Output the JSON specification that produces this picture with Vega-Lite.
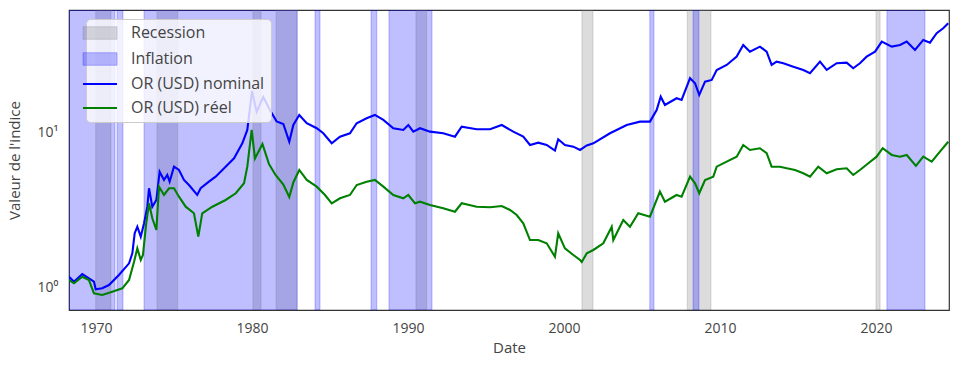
{
  "$schema": "https://vega.github.io/schema/vega-lite/v6.json",
  "width": 880,
  "height": 300,
  "autosize": {"type": "none"},
  "padding": {"left": 69, "top": 10, "right": 9, "bottom": 59},
  "config": {
    "view": {"stroke": "#333333", "strokeWidth": 1.2},
    "font": "Open Sans",
    "axis": {"domain": false, "ticks": false, "grid": false, "labelFont": "Open Sans", "labelFontSize": 14, "labelColor": "#444444", "titleFont": "Open Sans", "titleFontSize": 15, "titleFontWeight": "normal", "titleColor": "#444444", "labelPadding": 11}
  },
  "datasets": {
    "bands": [
      {"cat": "Recession", "start": 1969.98, "end": 1970.96},
      {"cat": "Recession", "start": 1973.91, "end": 1975.24},
      {"cat": "Recession", "start": 1980.06, "end": 1980.58},
      {"cat": "Recession", "start": 1981.54, "end": 1982.88},
      {"cat": "Recession", "start": 1990.51, "end": 1991.2},
      {"cat": "Recession", "start": 2001.15, "end": 2001.86},
      {"cat": "Recession", "start": 2007.9, "end": 2009.42},
      {"cat": "Recession", "start": 2020.0, "end": 2020.26},
      {"cat": "Inflation", "start": 1968.27, "end": 1971.22},
      {"cat": "Inflation", "start": 1971.35, "end": 1971.73},
      {"cat": "Inflation", "start": 1973.08, "end": 1982.9},
      {"cat": "Inflation", "start": 1984.04, "end": 1984.36},
      {"cat": "Inflation", "start": 1987.63, "end": 1988.0},
      {"cat": "Inflation", "start": 1988.78, "end": 1991.54},
      {"cat": "Inflation", "start": 2005.5, "end": 2005.77},
      {"cat": "Inflation", "start": 2008.27, "end": 2008.65},
      {"cat": "Inflation", "start": 2020.7, "end": 2023.14}
    ],
    "lines": [
      {"cat": "OR (USD) nominal", "year": 1968.27, "v": 1.166},
      {"cat": "OR (USD) nominal", "year": 1968.59, "v": 1.082},
      {"cat": "OR (USD) nominal", "year": 1969.12, "v": 1.214},
      {"cat": "OR (USD) nominal", "year": 1969.55, "v": 1.138},
      {"cat": "OR (USD) nominal", "year": 1969.87, "v": 1.082},
      {"cat": "OR (USD) nominal", "year": 1969.98, "v": 0.966},
      {"cat": "OR (USD) nominal", "year": 1970.4, "v": 0.981},
      {"cat": "OR (USD) nominal", "year": 1970.83, "v": 1.03},
      {"cat": "OR (USD) nominal", "year": 1971.47, "v": 1.196},
      {"cat": "OR (USD) nominal", "year": 1972.12, "v": 1.423},
      {"cat": "OR (USD) nominal", "year": 1972.33, "v": 1.652},
      {"cat": "OR (USD) nominal", "year": 1972.48, "v": 2.227},
      {"cat": "OR (USD) nominal", "year": 1972.65, "v": 2.456},
      {"cat": "OR (USD) nominal", "year": 1972.87, "v": 2.117},
      {"cat": "OR (USD) nominal", "year": 1973.08, "v": 2.584},
      {"cat": "OR (USD) nominal", "year": 1973.29, "v": 3.309},
      {"cat": "OR (USD) nominal", "year": 1973.4, "v": 4.353},
      {"cat": "OR (USD) nominal", "year": 1973.61, "v": 3.309},
      {"cat": "OR (USD) nominal", "year": 1973.87, "v": 3.657},
      {"cat": "OR (USD) nominal", "year": 1974.08, "v": 5.577},
      {"cat": "OR (USD) nominal", "year": 1974.36, "v": 4.928},
      {"cat": "OR (USD) nominal", "year": 1974.57, "v": 5.308},
      {"cat": "OR (USD) nominal", "year": 1974.72, "v": 4.805},
      {"cat": "OR (USD) nominal", "year": 1975.0, "v": 6.006},
      {"cat": "OR (USD) nominal", "year": 1975.32, "v": 5.719},
      {"cat": "OR (USD) nominal", "year": 1975.64, "v": 4.928},
      {"cat": "OR (USD) nominal", "year": 1975.96, "v": 4.571},
      {"cat": "OR (USD) nominal", "year": 1976.49, "v": 3.94},
      {"cat": "OR (USD) nominal", "year": 1976.71, "v": 4.353},
      {"cat": "OR (USD) nominal", "year": 1977.24, "v": 4.805},
      {"cat": "OR (USD) nominal", "year": 1977.67, "v": 5.176},
      {"cat": "OR (USD) nominal", "year": 1978.31, "v": 6.006},
      {"cat": "OR (USD) nominal", "year": 1978.85, "v": 6.808},
      {"cat": "OR (USD) nominal", "year": 1979.38, "v": 8.511},
      {"cat": "OR (USD) nominal", "year": 1979.7, "v": 10.38},
      {"cat": "OR (USD) nominal", "year": 1980.0, "v": 18.56},
      {"cat": "OR (USD) nominal", "year": 1980.3, "v": 13.57},
      {"cat": "OR (USD) nominal", "year": 1980.72, "v": 16.97},
      {"cat": "OR (USD) nominal", "year": 1981.15, "v": 13.98},
      {"cat": "OR (USD) nominal", "year": 1981.58, "v": 11.78},
      {"cat": "OR (USD) nominal", "year": 1982.01, "v": 11.35},
      {"cat": "OR (USD) nominal", "year": 1982.39, "v": 8.718},
      {"cat": "OR (USD) nominal", "year": 1982.65, "v": 11.18},
      {"cat": "OR (USD) nominal", "year": 1983.03, "v": 12.98},
      {"cat": "OR (USD) nominal", "year": 1983.51, "v": 11.47},
      {"cat": "OR (USD) nominal", "year": 1984.15, "v": 10.65},
      {"cat": "OR (USD) nominal", "year": 1984.57, "v": 9.88},
      {"cat": "OR (USD) nominal", "year": 1985.11, "v": 8.511},
      {"cat": "OR (USD) nominal", "year": 1985.64, "v": 9.393},
      {"cat": "OR (USD) nominal", "year": 1986.28, "v": 9.88},
      {"cat": "OR (USD) nominal", "year": 1986.71, "v": 11.47},
      {"cat": "OR (USD) nominal", "year": 1987.35, "v": 12.36},
      {"cat": "OR (USD) nominal", "year": 1987.88, "v": 12.98},
      {"cat": "OR (USD) nominal", "year": 1988.42, "v": 12.05},
      {"cat": "OR (USD) nominal", "year": 1989.06, "v": 10.65},
      {"cat": "OR (USD) nominal", "year": 1989.7, "v": 10.38},
      {"cat": "OR (USD) nominal", "year": 1990.02, "v": 11.18},
      {"cat": "OR (USD) nominal", "year": 1990.34, "v": 10.12},
      {"cat": "OR (USD) nominal", "year": 1990.77, "v": 10.65},
      {"cat": "OR (USD) nominal", "year": 1991.41, "v": 10.12},
      {"cat": "OR (USD) nominal", "year": 1992.26, "v": 9.88},
      {"cat": "OR (USD) nominal", "year": 1993.01, "v": 9.393},
      {"cat": "OR (USD) nominal", "year": 1993.44, "v": 10.9},
      {"cat": "OR (USD) nominal", "year": 1994.4, "v": 10.49},
      {"cat": "OR (USD) nominal", "year": 1995.26, "v": 10.49},
      {"cat": "OR (USD) nominal", "year": 1996.01, "v": 11.18},
      {"cat": "OR (USD) nominal", "year": 1996.75, "v": 10.12},
      {"cat": "OR (USD) nominal", "year": 1997.39, "v": 9.393},
      {"cat": "OR (USD) nominal", "year": 1997.82, "v": 8.3},
      {"cat": "OR (USD) nominal", "year": 1998.35, "v": 8.59},
      {"cat": "OR (USD) nominal", "year": 1998.89, "v": 8.3},
      {"cat": "OR (USD) nominal", "year": 1999.42, "v": 7.625},
      {"cat": "OR (USD) nominal", "year": 1999.63, "v": 9.036},
      {"cat": "OR (USD) nominal", "year": 2000.06, "v": 8.3},
      {"cat": "OR (USD) nominal", "year": 2000.6, "v": 8.091},
      {"cat": "OR (USD) nominal", "year": 2001.03, "v": 7.703},
      {"cat": "OR (USD) nominal", "year": 2001.46, "v": 8.238},
      {"cat": "OR (USD) nominal", "year": 2001.88, "v": 8.511},
      {"cat": "OR (USD) nominal", "year": 2002.95, "v": 9.88},
      {"cat": "OR (USD) nominal", "year": 2004.02, "v": 11.18},
      {"cat": "OR (USD) nominal", "year": 2004.87, "v": 11.75},
      {"cat": "OR (USD) nominal", "year": 2005.51, "v": 11.75},
      {"cat": "OR (USD) nominal", "year": 2005.94, "v": 13.98},
      {"cat": "OR (USD) nominal", "year": 2006.2, "v": 17.05},
      {"cat": "OR (USD) nominal", "year": 2006.47, "v": 15.07},
      {"cat": "OR (USD) nominal", "year": 2007.22, "v": 16.65},
      {"cat": "OR (USD) nominal", "year": 2007.54, "v": 16.23},
      {"cat": "OR (USD) nominal", "year": 2008.08, "v": 22.43},
      {"cat": "OR (USD) nominal", "year": 2008.4, "v": 20.82},
      {"cat": "OR (USD) nominal", "year": 2008.67, "v": 17.48},
      {"cat": "OR (USD) nominal", "year": 2009.04, "v": 21.32},
      {"cat": "OR (USD) nominal", "year": 2009.47, "v": 21.87},
      {"cat": "OR (USD) nominal", "year": 2009.79, "v": 25.38},
      {"cat": "OR (USD) nominal", "year": 2010.43, "v": 27.34},
      {"cat": "OR (USD) nominal", "year": 2011.07, "v": 30.95},
      {"cat": "OR (USD) nominal", "year": 2011.49, "v": 36.84},
      {"cat": "OR (USD) nominal", "year": 2011.92, "v": 33.34},
      {"cat": "OR (USD) nominal", "year": 2012.56, "v": 35.92},
      {"cat": "OR (USD) nominal", "year": 2012.99, "v": 33.34},
      {"cat": "OR (USD) nominal", "year": 2013.31, "v": 27.34},
      {"cat": "OR (USD) nominal", "year": 2013.63, "v": 28.72},
      {"cat": "OR (USD) nominal", "year": 2014.06, "v": 28.05},
      {"cat": "OR (USD) nominal", "year": 2014.7, "v": 26.66},
      {"cat": "OR (USD) nominal", "year": 2015.34, "v": 25.38},
      {"cat": "OR (USD) nominal", "year": 2015.77, "v": 24.16},
      {"cat": "OR (USD) nominal", "year": 2016.41, "v": 28.72},
      {"cat": "OR (USD) nominal", "year": 2016.84, "v": 25.38},
      {"cat": "OR (USD) nominal", "year": 2017.48, "v": 28.05},
      {"cat": "OR (USD) nominal", "year": 2018.12, "v": 28.3},
      {"cat": "OR (USD) nominal", "year": 2018.54, "v": 26.03},
      {"cat": "OR (USD) nominal", "year": 2018.97, "v": 28.05},
      {"cat": "OR (USD) nominal", "year": 2019.4, "v": 30.95},
      {"cat": "OR (USD) nominal", "year": 2019.94, "v": 33.34},
      {"cat": "OR (USD) nominal", "year": 2020.37, "v": 38.7},
      {"cat": "OR (USD) nominal", "year": 2021.01, "v": 35.92},
      {"cat": "OR (USD) nominal", "year": 2021.54, "v": 36.84},
      {"cat": "OR (USD) nominal", "year": 2021.97, "v": 38.7},
      {"cat": "OR (USD) nominal", "year": 2022.5, "v": 34.2},
      {"cat": "OR (USD) nominal", "year": 2023.03, "v": 39.69},
      {"cat": "OR (USD) nominal", "year": 2023.46, "v": 38.13},
      {"cat": "OR (USD) nominal", "year": 2023.89, "v": 43.87},
      {"cat": "OR (USD) nominal", "year": 2024.31, "v": 47.25},
      {"cat": "OR (USD) nominal", "year": 2024.63, "v": 50.92},
      {"cat": "OR (USD) réel", "year": 1968.27, "v": 1.11},
      {"cat": "OR (USD) réel", "year": 1968.59, "v": 1.057},
      {"cat": "OR (USD) réel", "year": 1969.12, "v": 1.166},
      {"cat": "OR (USD) réel", "year": 1969.55, "v": 1.11},
      {"cat": "OR (USD) réel", "year": 1969.87, "v": 0.91},
      {"cat": "OR (USD) réel", "year": 1970.4, "v": 0.888},
      {"cat": "OR (USD) réel", "year": 1971.04, "v": 0.932},
      {"cat": "OR (USD) réel", "year": 1971.69, "v": 0.981},
      {"cat": "OR (USD) réel", "year": 1972.12, "v": 1.11},
      {"cat": "OR (USD) réel", "year": 1972.44, "v": 1.458},
      {"cat": "OR (USD) réel", "year": 1972.65, "v": 1.78},
      {"cat": "OR (USD) réel", "year": 1972.87, "v": 1.496},
      {"cat": "OR (USD) réel", "year": 1973.01, "v": 1.611},
      {"cat": "OR (USD) réel", "year": 1973.22, "v": 2.584},
      {"cat": "OR (USD) réel", "year": 1973.4, "v": 3.481},
      {"cat": "OR (USD) réel", "year": 1973.61, "v": 2.784},
      {"cat": "OR (USD) réel", "year": 1973.87, "v": 2.339},
      {"cat": "OR (USD) réel", "year": 1974.04, "v": 4.459},
      {"cat": "OR (USD) réel", "year": 1974.36, "v": 3.94},
      {"cat": "OR (USD) réel", "year": 1974.68, "v": 4.353},
      {"cat": "OR (USD) réel", "year": 1975.0, "v": 4.353},
      {"cat": "OR (USD) réel", "year": 1975.32, "v": 3.841},
      {"cat": "OR (USD) réel", "year": 1975.75, "v": 3.309},
      {"cat": "OR (USD) réel", "year": 1976.28, "v": 3.0},
      {"cat": "OR (USD) réel", "year": 1976.56, "v": 2.117},
      {"cat": "OR (USD) réel", "year": 1976.81, "v": 3.0},
      {"cat": "OR (USD) réel", "year": 1977.46, "v": 3.309},
      {"cat": "OR (USD) réel", "year": 1978.31, "v": 3.657},
      {"cat": "OR (USD) réel", "year": 1978.96, "v": 4.041},
      {"cat": "OR (USD) réel", "year": 1979.49, "v": 4.691},
      {"cat": "OR (USD) réel", "year": 1979.7, "v": 6.006},
      {"cat": "OR (USD) réel", "year": 1979.98, "v": 10.38},
      {"cat": "OR (USD) réel", "year": 1980.19, "v": 6.786},
      {"cat": "OR (USD) réel", "year": 1980.67, "v": 8.424},
      {"cat": "OR (USD) réel", "year": 1981.09, "v": 6.254},
      {"cat": "OR (USD) réel", "year": 1981.51, "v": 5.308},
      {"cat": "OR (USD) réel", "year": 1982.01, "v": 4.608},
      {"cat": "OR (USD) réel", "year": 1982.39, "v": 3.824},
      {"cat": "OR (USD) réel", "year": 1982.65, "v": 4.748},
      {"cat": "OR (USD) réel", "year": 1983.03, "v": 5.719},
      {"cat": "OR (USD) réel", "year": 1983.51, "v": 4.928},
      {"cat": "OR (USD) réel", "year": 1984.15, "v": 4.459},
      {"cat": "OR (USD) réel", "year": 1984.68, "v": 3.94},
      {"cat": "OR (USD) réel", "year": 1985.11, "v": 3.481},
      {"cat": "OR (USD) réel", "year": 1985.64, "v": 3.75},
      {"cat": "OR (USD) réel", "year": 1986.28, "v": 3.94},
      {"cat": "OR (USD) réel", "year": 1986.71, "v": 4.571},
      {"cat": "OR (USD) réel", "year": 1987.35, "v": 4.805},
      {"cat": "OR (USD) réel", "year": 1987.88, "v": 4.928},
      {"cat": "OR (USD) réel", "year": 1988.42, "v": 4.459},
      {"cat": "OR (USD) réel", "year": 1989.06, "v": 3.94},
      {"cat": "OR (USD) réel", "year": 1989.7, "v": 3.75},
      {"cat": "OR (USD) réel", "year": 1990.02, "v": 3.94},
      {"cat": "OR (USD) réel", "year": 1990.45, "v": 3.481},
      {"cat": "OR (USD) réel", "year": 1990.77, "v": 3.565},
      {"cat": "OR (USD) réel", "year": 1991.41, "v": 3.394},
      {"cat": "OR (USD) réel", "year": 1992.26, "v": 3.232},
      {"cat": "OR (USD) réel", "year": 1993.01, "v": 3.072},
      {"cat": "OR (USD) réel", "year": 1993.44, "v": 3.481},
      {"cat": "OR (USD) réel", "year": 1994.4, "v": 3.309},
      {"cat": "OR (USD) réel", "year": 1995.26, "v": 3.28},
      {"cat": "OR (USD) réel", "year": 1996.01, "v": 3.344},
      {"cat": "OR (USD) réel", "year": 1996.54, "v": 3.151},
      {"cat": "OR (USD) réel", "year": 1996.97, "v": 2.924},
      {"cat": "OR (USD) réel", "year": 1997.39, "v": 2.584},
      {"cat": "OR (USD) réel", "year": 1997.82, "v": 2.014},
      {"cat": "OR (USD) réel", "year": 1998.35, "v": 2.014},
      {"cat": "OR (USD) réel", "year": 1998.89, "v": 1.918},
      {"cat": "OR (USD) réel", "year": 1999.42, "v": 1.571},
      {"cat": "OR (USD) réel", "year": 1999.63, "v": 2.227},
      {"cat": "OR (USD) réel", "year": 2000.06, "v": 1.78},
      {"cat": "OR (USD) réel", "year": 2000.6, "v": 1.611},
      {"cat": "OR (USD) réel", "year": 2001.03, "v": 1.496},
      {"cat": "OR (USD) réel", "year": 2001.14, "v": 1.451},
      {"cat": "OR (USD) réel", "year": 2001.46, "v": 1.652},
      {"cat": "OR (USD) réel", "year": 2001.88, "v": 1.736},
      {"cat": "OR (USD) réel", "year": 2002.52, "v": 1.918},
      {"cat": "OR (USD) réel", "year": 2003.06, "v": 2.456},
      {"cat": "OR (USD) réel", "year": 2003.16, "v": 2.014},
      {"cat": "OR (USD) réel", "year": 2003.8, "v": 2.715},
      {"cat": "OR (USD) réel", "year": 2004.23, "v": 2.456},
      {"cat": "OR (USD) réel", "year": 2004.76, "v": 3.0},
      {"cat": "OR (USD) réel", "year": 2005.51, "v": 2.851},
      {"cat": "OR (USD) réel", "year": 2006.15, "v": 4.14},
      {"cat": "OR (USD) réel", "year": 2006.47, "v": 3.565},
      {"cat": "OR (USD) réel", "year": 2007.22, "v": 3.94},
      {"cat": "OR (USD) réel", "year": 2007.54, "v": 3.841},
      {"cat": "OR (USD) réel", "year": 2008.08, "v": 5.176},
      {"cat": "OR (USD) réel", "year": 2008.4, "v": 4.691},
      {"cat": "OR (USD) réel", "year": 2008.67, "v": 4.041},
      {"cat": "OR (USD) réel", "year": 2009.04, "v": 4.928},
      {"cat": "OR (USD) réel", "year": 2009.57, "v": 5.176},
      {"cat": "OR (USD) réel", "year": 2009.79, "v": 6.006},
      {"cat": "OR (USD) réel", "year": 2010.43, "v": 6.471},
      {"cat": "OR (USD) réel", "year": 2011.07, "v": 6.971},
      {"cat": "OR (USD) réel", "year": 2011.49, "v": 8.3},
      {"cat": "OR (USD) réel", "year": 2011.92, "v": 7.703},
      {"cat": "OR (USD) réel", "year": 2012.56, "v": 7.903},
      {"cat": "OR (USD) réel", "year": 2012.99, "v": 7.336},
      {"cat": "OR (USD) réel", "year": 2013.31, "v": 6.006},
      {"cat": "OR (USD) réel", "year": 2013.85, "v": 6.006},
      {"cat": "OR (USD) réel", "year": 2014.28, "v": 5.866},
      {"cat": "OR (USD) réel", "year": 2014.81, "v": 5.719},
      {"cat": "OR (USD) réel", "year": 2015.34, "v": 5.444},
      {"cat": "OR (USD) réel", "year": 2015.77, "v": 5.176},
      {"cat": "OR (USD) réel", "year": 2016.3, "v": 6.006},
      {"cat": "OR (USD) réel", "year": 2016.84, "v": 5.444},
      {"cat": "OR (USD) réel", "year": 2017.48, "v": 5.779},
      {"cat": "OR (USD) réel", "year": 2018.12, "v": 5.866},
      {"cat": "OR (USD) réel", "year": 2018.54, "v": 5.308},
      {"cat": "OR (USD) réel", "year": 2018.97, "v": 5.719},
      {"cat": "OR (USD) réel", "year": 2019.51, "v": 6.32},
      {"cat": "OR (USD) réel", "year": 2020.04, "v": 6.971},
      {"cat": "OR (USD) réel", "year": 2020.43, "v": 7.903},
      {"cat": "OR (USD) réel", "year": 2021.01, "v": 7.152},
      {"cat": "OR (USD) réel", "year": 2021.54, "v": 6.971},
      {"cat": "OR (USD) réel", "year": 2021.97, "v": 7.152},
      {"cat": "OR (USD) réel", "year": 2022.56, "v": 6.072},
      {"cat": "OR (USD) réel", "year": 2023.03, "v": 6.971},
      {"cat": "OR (USD) réel", "year": 2023.57, "v": 6.471},
      {"cat": "OR (USD) réel", "year": 2024.1, "v": 7.512},
      {"cat": "OR (USD) réel", "year": 2024.63, "v": 8.718}
    ]
  },
  "layer": [
    {
      "data": {"name": "bands"},
      "mark": {"type": "rect", "fillOpacity": 0.25, "clip": true},
      "encoding": {
        "x": {"field": "start", "type": "quantitative", "scale": {"domain": [1968.27, 2024.68], "nice": false, "zero": false}, "axis": {"values": [1970, 1980, 1990, 2000, 2010, 2020], "format": "d", "title": "Date", "titlePadding": 5}},
        "x2": {"field": "end"},
        "color": {
          "field": "cat", "type": "nominal",
          "scale": {"domain": ["Recession", "Inflation", "OR (USD) nominal", "OR (USD) réel"], "range": ["#737373", "#0000ff", "#0000ff", "#008000"]},
          "legend": {
            "title": null, "orient": "none", "legendX": 17, "legendY": 9,
            "fillColor": "rgba(255,255,255,0.8)", "strokeColor": "#cccccc", "cornerRadius": 4, "padding": 6,
            "labelFont": "Open Sans", "labelFontSize": 16, "labelColor": "#444444", "labelOffset": 23,
            "symbolSize": 1156, "rowPadding": 8,
            "encode": {"symbols": {"update": {
              "shape": {"signal": "indexof(['Recession','Inflation'], datum.value) >= 0 ? 'M-1,-0.37H1V0.37H-1Z' : 'stroke'"},
              "fill": {"signal": "datum.value == 'Recession' ? '#737373' : datum.value == 'Inflation' ? '#0000ff' : 'transparent'"},
              "fillOpacity": {"value": 0.25},
              "stroke": {"signal": "datum.value == 'Recession' ? '#737373' : datum.value == 'Inflation' ? '#0000ff' : datum.value == 'OR (USD) nominal' ? '#0000ff' : '#008000'"},
              "strokeOpacity": {"signal": "indexof(['Recession','Inflation'], datum.value) >= 0 ? 0.25 : 1"},
              "strokeWidth": {"signal": "indexof(['Recession','Inflation'], datum.value) >= 0 ? 1 : 2"},
              "opacity": {"value": 1},
              "size": {"value": 1156}
            }}}
          }
        }
      }
    },
    {
      "data": {"name": "bands"},
      "mark": {"type": "rect", "filled": false, "strokeOpacity": 0.25, "strokeWidth": 1, "clip": true},
      "encoding": {
        "x": {"field": "start", "type": "quantitative"},
        "x2": {"field": "end"},
        "color": {"field": "cat", "type": "nominal"}
      }
    },
    {
      "data": {"name": "lines"},
      "mark": {"type": "line", "strokeWidth": 2.1, "clip": true},
      "encoding": {
        "x": {"field": "year", "type": "quantitative"},
        "y": {"field": "v", "type": "quantitative", "scale": {"type": "log", "domain": [0.71, 62], "nice": false}, "axis": {"values": [1, 10], "labelExpr": "datum.value == 1 ? '10⁰' : '10¹'", "title": "Valeur de l'indice", "titlePadding": 15}},
        "color": {"field": "cat", "type": "nominal"}
      }
    }
  ]
}
